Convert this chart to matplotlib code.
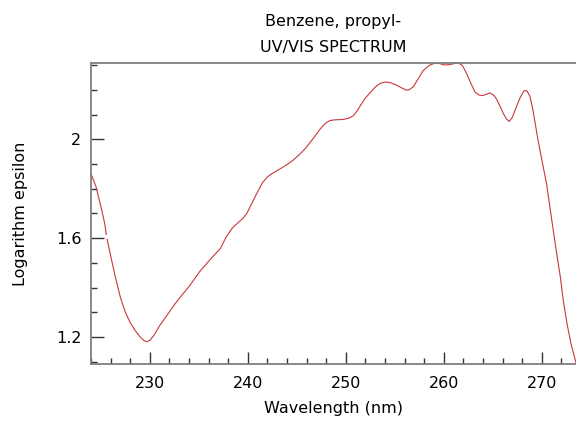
import numpy as np
import matplotlib
matplotlib.use("Agg")
import matplotlib.pyplot as plt
from matplotlib.ticker import MultipleLocator

# ------------ données lues sur le spectre ------------
# (nan = petite coupure visible dans la courbe d'origine)
wavelength = [224.0, 224.5, 225.0, 225.4, 225.55, 225.6, 225.65, 226.0, 226.5, 227.0,
              227.5, 228.0, 228.5, 229.0, 229.4, 229.7, 230.0, 230.4, 231.0, 231.8,
              232.6, 233.4, 234.1, 235.1, 236.2, 237.2, 237.8, 238.4, 238.9, 239.5,
              239.9, 240.4, 240.9, 241.5, 242.0, 242.4, 243.3, 244.0, 244.6, 245.3,
              246.0, 246.7, 247.4, 247.9, 248.4, 249.0, 249.7, 250.3, 250.8, 251.2,
              251.6, 252.0, 252.5, 253.0, 253.5, 254.0, 254.5, 255.2, 255.8, 256.2,
              256.5, 256.9, 257.3, 257.9, 258.5, 259.0, 259.5, 260.0, 260.5, 261.0,
              261.5, 261.9, 262.3, 262.8, 263.2, 263.6, 263.9, 264.3, 264.7, 265.1,
              265.4, 265.8, 266.1, 266.4, 266.7, 267.0, 267.4, 267.8, 268.2, 268.5,
              268.8, 269.1, 269.4, 269.6, 270.0, 270.5, 271.0, 271.5, 271.9, 272.2,
              272.6, 273.0, 273.5]
log_eps = [1.861, 1.810, 1.730, 1.660, 1.615, np.nan, 1.595, 1.530, 1.440, 1.360,
           1.300, 1.258, 1.226, 1.200, 1.185, 1.180, 1.186, 1.205, 1.245, 1.290,
           1.335, 1.375, 1.409, 1.465, 1.515, 1.558, 1.605, 1.640, 1.659, 1.680,
           1.700, 1.740, 1.780, 1.825, 1.848, 1.860, 1.881, 1.898, 1.915, 1.940,
           1.969, 2.005, 2.043, 2.065, 2.077, 2.080, 2.081, 2.086, 2.097, 2.118,
           2.144, 2.168, 2.190, 2.212, 2.227, 2.233, 2.231, 2.220, 2.207, 2.200,
           2.202, 2.214, 2.240, 2.279, 2.300, 2.308, 2.309, 2.302, 2.303, 2.307,
           2.310, 2.300, 2.270, 2.225, 2.192, 2.180, 2.178, 2.182, 2.189, 2.180,
           2.163, 2.130, 2.104, 2.083, 2.073, 2.090, 2.131, 2.170, 2.198, 2.197,
           2.175, 2.120, 2.050, 2.003, 1.920, 1.820, 1.680, 1.545, 1.443, 1.348,
           1.250, 1.170, 1.095]

titre = "Benzene, propyl-\nUV/VIS SPECTRUM"
x_ticks = [230, 240, 250, 260, 270]
y_ticks = [1.2, 1.6, 2.0]
y_labels = ["1.2", "1.6", "2"]
# -----------------------------------------------------

W, H = 576, 421
fig = plt.figure(figsize=(W / 100, H / 100), dpi=100)
ax = fig.add_axes([91 / W, (H - 364) / H, (W - 91) / W, (364 - 63) / H])

ax.plot(wavelength, log_eps, color="#c8383c", lw=0.8)

ax.set_xlim(224, 273.5)
ax.set_ylim(1.09, 2.31)

ax.set_xticks(x_ticks)
ax.set_yticks(y_ticks)
ax.set_yticklabels(y_labels)
ax.xaxis.set_minor_locator(MultipleLocator(2))
ax.yaxis.set_minor_locator(MultipleLocator(0.1))

gris = "#7f7f7f"
for s in ["left", "bottom", "top"]:
    ax.spines[s].set_color(gris)
    ax.spines[s].set_linewidth(1.3)
ax.spines["right"].set_visible(False)

ax.tick_params(which="both", direction="in", color="#333333", labelsize=11.5, width=1)
ax.tick_params(which="major", length=9)
ax.tick_params(axis="x", which="major", pad=9)
ax.tick_params(axis="y", which="major", pad=7)
ax.tick_params(which="minor", length=4.5)
ax.tick_params(top=False, right=False, which="both")

ax.set_xlabel("Wavelength (nm)", fontsize=11.5, labelpad=7)
ax.set_ylabel("Logarithm epsilon", fontsize=11.5, labelpad=20)
ax.set_title(titre, fontsize=11.5, linespacing=1.9, pad=8)

fig.savefig("out.png", dpi=100)
